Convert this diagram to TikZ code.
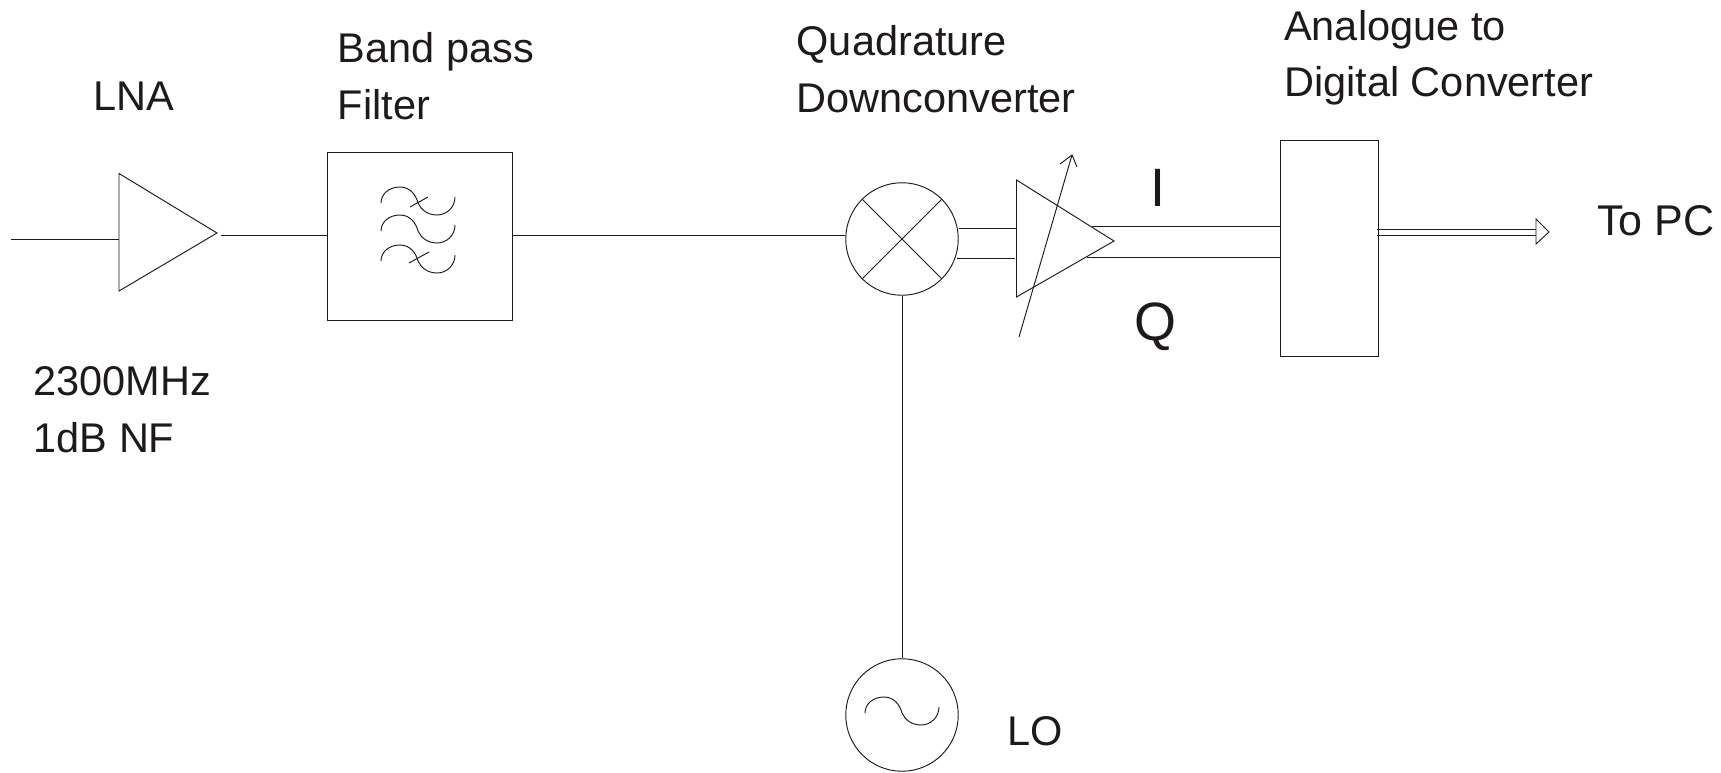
\documentclass[tikz,border=0pt]{standalone}
\usepackage{fontspec}
\setmainfont{Liberation Sans}
\definecolor{ink}{HTML}{1E1A1B}
\tikzset{
  wire/.style={draw=ink,line width=0.95pt},
  lbl/.style={anchor=base west,inner sep=0pt,text=ink,font=\fontsize{41.5}{50}\selectfont},
  biglbl/.style={anchor=base west,inner sep=0pt,text=ink,font=\fontsize{54}{64}\selectfont},
  blockbox/.style={draw=ink,line width=0.95pt,rectangle,inner sep=0pt,anchor=north west},
  roundel/.style={draw=ink,line width=0.95pt,circle,inner sep=0pt,minimum size=112.5pt},
}
\newcommand{\wavemark}[2]{%
  \draw[wire] (#1,#2) .. controls (#1,#2-9) and (#1+8,#2-16) .. (#1+19,#2-16)
    .. controls (#1+29,#2-16) and (#1+35,#2-8) .. (#1+37,#2)
    .. controls (#1+40,#2+7) and (#1+47,#2+12) .. (#1+56,#2+12)
    .. controls (#1+66,#2+12) and (#1+74,#2+4) .. (#1+74,#2-6);}
\begin{document}
\begin{tikzpicture}[x=1pt,y=-1pt]
\useasboundingbox (0,0) rectangle (1721,773);

% ports and free ends
\coordinate (rfin) at (11,239);
\coordinate (lnaA) at (119,173.5);
\coordinate (lnaB) at (119,291);
\coordinate (lnaT) at (217,233);
\coordinate (lnaIn) at (119,239);
\coordinate (lnaOut) at (221,235);
\coordinate (vgaA) at (1016.5,180);
\coordinate (vgaB) at (1016.5,297);
\coordinate (vgaT) at (1114,241);

% blocks
\node[blockbox,minimum width=185pt,minimum height=167pt] (bpf) at (327.3,152.5) {};
\node[blockbox,minimum width=98pt,minimum height=215.5pt] (adc) at (1280,140) {};
\node[roundel] (mix) at (902,239) {};
\node[roundel] (lo) at (902,715) {};

% triangles
\draw[wire,line join=miter] (lnaA) -- (lnaB) -- (lnaT) -- cycle;
\draw[wire,line join=miter] (vgaA) -- (vgaB) -- (vgaT) -- cycle;

% connectors
\draw[wire] (rfin) -- (lnaIn);
\draw[wire] (lnaOut) -- (lnaOut -| bpf.west);
\draw[wire] (bpf.east |- 0,235) -- (mix.west |- 0,235);
\draw[wire] (mix) -- (lo);
\draw[wire] (mix.45) -- (mix.225);
\draw[wire] (mix.135) -- (mix.315);
\draw[wire] (959,228) -- (1017,228);
\draw[wire] (957,258) -- (1015,258);
\draw[wire] (1092,226) -- (1092,226 -| adc.west);
\draw[wire] (1087,257) -- (1087,257 -| adc.west);

% variable gain arrow
\coordinate (vgS) at (1019,337);
\coordinate (vgE) at (1072,155);
\draw[wire] (vgS) -- (vgE);
\draw[wire,line join=miter] (1060,164) -- (vgE) -- (1077,167);

% output double arrow
\coordinate (outU) at (1377,229);
\coordinate (outL) at (1377,235);
\draw[wire] (outU) -- (1536,229);
\draw[wire] (outL) -- (1536,235);
\draw[wire,line join=miter] (1536,219) -- (1549,232) -- (1536,244) -- cycle;

% filter and oscillator symbols
\wavemark{381}{203}
\wavemark{381}{231}
\wavemark{381}{261}
\draw[wire] (410,207) -- (428,197);
\draw[wire] (409,263) -- (429,252);
\wavemark{865}{713}

% labels
\node[lbl] (tlna) at (93.5,111) {LNA};
\node[lbl] (tbp) at (337.5,62.7) {Band pass};
\node[lbl] (tfil) at (337.5,119.7) {Filter};
\node[lbl] (tq) at (796.5,55.7) {Quadrature};
\node[lbl] (tdc) at (796.5,112.7) {Downconverter};
\node[lbl] (tadc) at (1284,40.5) {Analogue to};
\node[lbl] (tdig) at (1284,97) {Digital Converter};
\node[lbl,font=\fontsize{43}{50}\selectfont] (tpc) at (1597,235) {To PC};
\node[lbl] (tf) at (33.5,395.5) {2300MHz};
\node[lbl] (tnf) at (33.5,452.5) {1dB NF};
\node[lbl] (tlo) at (1007,745) {LO};
\node[biglbl] (ti) at (1150,206) {I};
\node[biglbl] (tqq) at (1134,340) {Q};
\end{tikzpicture}
\end{document}
